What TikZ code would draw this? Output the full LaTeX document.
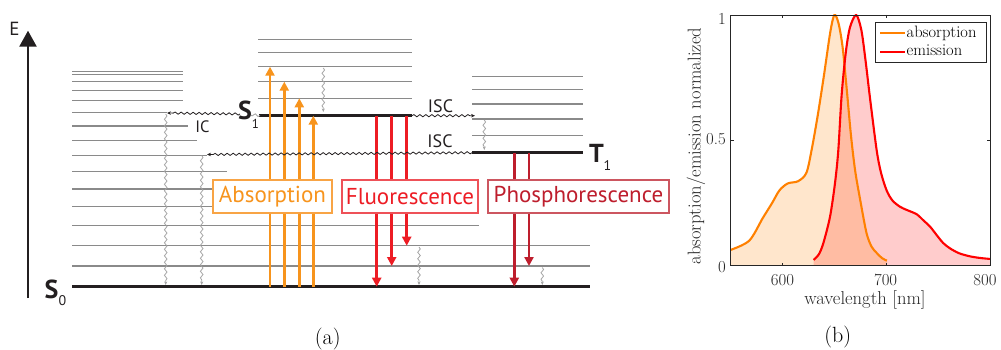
\documentclass[tikz,border=0pt]{standalone}
\usepackage{fontspec}
\newfontfamily\dfont{PT Sans}
\usetikzlibrary{arrows.meta,decorations.pathmorphing}
\definecolor{lvl}{HTML}{8A8A8A}
\definecolor{gnd}{HTML}{231F20}
\definecolor{absc}{HTML}{F7941D}
\definecolor{absb}{HTML}{F8A445}
\definecolor{fluc}{HTML}{ED1C24}
\definecolor{flub}{HTML}{EE5158}
\definecolor{phoc}{HTML}{BE1E2D}
\definecolor{phob}{HTML}{CC5660}
\definecolor{relaxc}{HTML}{A3A3A3}
\definecolor{mlorange}{HTML}{FF8000}
\definecolor{mlred}{HTML}{FF0000}
\definecolor{axc}{HTML}{262626}
\begin{document}
\begin{tikzpicture}[x=1pt,y=-1pt,
  lvlline/.style={lvl, line width=1.2pt},
  gndline/.style={gnd, line width=2.7pt},
  trans/.style={line width=2.6pt, -{Triangle[width=9pt,length=9pt]}},
  wavy/.style={gnd, line width=0.8pt, decorate, decoration={snake, amplitude=1.1pt, segment length=6pt, post length=3.5pt}, -{Stealth[length=4pt,width=3.5pt]}},
  relax/.style={relaxc, line width=0.8pt, decorate, decoration={snake, amplitude=1.3pt, segment length=6.5pt, post length=3pt}, -{Stealth[length=3.5pt,width=3pt]}},
  lbox/.style={draw, fill=white, line width=1.3pt, minimum height=33pt, inner sep=0pt, font=\dfont\fontsize{23}{23}\selectfont},
  statelbl/.style={font=\dfont\bfseries\fontsize{26}{26}\selectfont, inner sep=0pt, anchor=base, text=gnd},
  sublbl/.style={font=\dfont\fontsize{14}{14}\selectfont, inner sep=0pt, anchor=base, text=gnd},
  proclbl/.style={font=\dfont\fontsize{17}{17}\selectfont, inner sep=0pt, anchor=base, text=gnd},
  ticklbl/.style={font=\fontsize{16.8}{16.8}\selectfont, inner sep=0pt, text=axc},
  axlbl/.style={font=\fontsize{18.6}{18.6}\selectfont, inner sep=0pt, text=axc},
  leglbl/.style={font=\fontsize{16.5}{16.5}\selectfont, inner sep=0pt, anchor=base west, text=black},
  caption/.style={font=\fontsize{22}{22}\selectfont, inner sep=0pt}
]
\useasboundingbox (0,0) rectangle (1001,350);

% ---------- energy axis ----------
\coordinate (Ebot) at (28,298);
\coordinate (Etop) at (28,30.7);
\draw[gnd, line width=2.6pt, -{Triangle[width=17pt,length=16pt]}] (Ebot) -- (Etop);
\node[proclbl, font=\dfont\fontsize{19}{19}\selectfont] (E) at (14.5,35.5) {E};

% ---------- S0 manifold ----------
\foreach \y/\xe in {71.3/183, 74.7/183, 81.7/183, 90.3/183, 100.7/183, 112.7/167, 126/188, 140.3/197, 155.3/207, 171.7/227, 189/250, 206.7/250, 225.7/479, 245.7/590, 266/590}
  \draw[lvlline] (72,\y) -- (\xe,\y);
\coordinate (S0a) at (72,286.7);
\coordinate (S0b) at (590,286.7);
\draw[gndline] (S0a) -- (S0b);

% ---------- S1 manifold ----------
\foreach \y in {39.3, 52.3, 66.7, 81.7, 98.3}
  \draw[lvlline] (258,\y) -- (412,\y);
\coordinate (S1a) at (259,115.7);
\coordinate (S1b) at (412,115.7);
\draw[gndline] (S1a) -- (S1b);

% ---------- T1 manifold ----------
\foreach \y in {76.7, 89.7, 104, 119, 135.7}
  \draw[lvlline] (472,\y) -- (583,\y);
\coordinate (T1a) at (472,152.7);
\coordinate (T1b) at (583,152.7);
\draw[gndline] (T1a) -- (T1b);

% ---------- radiative transitions ----------
\foreach \x/\yt [count=\i] in {270/66.7, 284.3/81.7, 299.3/98.3, 313.3/115.7}{
  \coordinate (ab\i s) at (\x,286.7);
  \coordinate (ab\i e) at (\x,\yt);
  \draw[trans, absc] (ab\i s) -- (ab\i e);
}
\foreach \x/\yt [count=\i] in {376.7/286.7, 391.7/266, 406.7/245.7}{
  \coordinate (fl\i s) at (\x,115.7);
  \coordinate (fl\i e) at (\x,\yt);
  \draw[trans, fluc] (fl\i s) -- (fl\i e);
}
\foreach \x/\yt [count=\i] in {514.3/286.7, 529/266}{
  \coordinate (ph\i s) at (\x,152.7);
  \coordinate (ph\i e) at (\x,\yt);
  \draw[trans, phoc] (ph\i s) -- (ph\i e);
}

% ---------- non-radiative transitions ----------
\coordinate (ICs) at (240,114);
\coordinate (ICe) at (167,113);
\draw[wavy] (ICs) -- (ICe);
\coordinate (gw1) at (260,115.5);
\coordinate (gw2) at (250,114.5);
\draw[relaxc, line width=0.8pt, decorate, decoration={snake, amplitude=1.2pt, segment length=6pt}] (gw1) -- (gw2);
\coordinate (ISCae) at (475,115.7);
\draw[wavy] (S1b) -- (ISCae);
\coordinate (ISCbe) at (207,154.5);
\draw[wavy] (T1a) -- (ISCbe);

\foreach \x/\ya/\yb [count=\i] in {165.7/114/285, 201.7/155.5/285, 323.3/68/112, 419/247/285, 484.3/120/150, 542.3/267.5/285}{
  \coordinate (vr\i s) at (\x,\ya);
  \coordinate (vr\i e) at (\x,\yb);
  \draw[relax] (vr\i s) -- (vr\i e);
}

% ---------- process boxes ----------
\node[lbox, draw=absb, text=absc, minimum width=119pt] (absbox) at (272.5,196.5) {Absorption};
\node[lbox, draw=flub, text=fluc, minimum width=136pt] (flubox) at (410,196.5) {Fluorescence};
\node[lbox, draw=phob, text=phoc, minimum width=181pt] (phobox) at (578.5,196.5) {Phosphorescence};

% ---------- labels ----------
\node[statelbl] (S0l) at (51.5,298) {S};
\node[sublbl] (S0s) at (62.5,305) {0};
\node[statelbl] (S1l) at (245,120) {S};
\node[sublbl, font=\dfont\fontsize{13}{13}\selectfont] (S1s) at (255.5,128.5) {1};
\node[statelbl] (T1l) at (596.5,162) {T};
\node[sublbl] (T1s) at (607.5,171) {1};
\node[proclbl, font=\dfont\fontsize{16.5}{16.5}\selectfont] (ICl) at (202.5,132) {IC};
\node[proclbl, font=\dfont\fontsize{18}{18}\selectfont] (ISCal) at (440.5,113) {ISC};
\node[proclbl, font=\dfont\fontsize{18}{18}\selectfont] (ISCbl) at (440,148) {ISC};

% ---------- spectra plot ----------
\begin{scope}[shift={(159.92,265.7)}, x=1.0376pt, y=250.7pt]
  \begin{scope}
    \clip (550,0) rectangle (800,1);
    \fill[mlred, fill opacity=0.2] plot[smooth] coordinates {(630,0.023) (635,0.045) (639.3,0.089) (645.8,0.195) (650.6,0.329) (653.8,0.46) (657,0.68) (661,0.85) (665,0.95) (671,1.0) (676,0.94) (680,0.82) (684.6,0.66) (690.8,0.46) (695,0.37) (700.4,0.30) (706,0.26) (713.3,0.235) (720,0.222) (729.4,0.205) (736,0.18) (742.2,0.156) (749,0.12) (755,0.09) (761.5,0.069) (770,0.05) (780,0.038) (790,0.031) (800,0.027)} -- (800,0) -- (630,0) -- cycle;
    \fill[mlorange, fill opacity=0.2] plot[smooth] coordinates {(550,0.063) (568,0.10) (581,0.19) (590,0.25) (597,0.30) (605,0.328) (615,0.337) (623,0.37) (628,0.46) (634,0.60) (640,0.76) (646,0.93) (650,1.0) (654,0.967) (658,0.87) (662,0.70) (666,0.52) (670,0.38) (675,0.26) (681,0.13) (686,0.075) (691,0.05) (696,0.03) (700.6,0.02)} -- (700.6,0) -- (550,0) -- cycle;
    \draw[mlorange, line width=2.1pt] plot[smooth] coordinates {(550,0.063) (568,0.10) (581,0.19) (590,0.25) (597,0.30) (605,0.328) (615,0.337) (623,0.37) (628,0.46) (634,0.60) (640,0.76) (646,0.93) (650,1.0) (654,0.967) (658,0.87) (662,0.70) (666,0.52) (670,0.38) (675,0.26) (681,0.13) (686,0.075) (691,0.05) (696,0.03) (700.6,0.02)};
    \draw[mlred, line width=2.1pt] plot[smooth] coordinates {(630,0.023) (635,0.045) (639.3,0.089) (645.8,0.195) (650.6,0.329) (653.8,0.46) (657,0.68) (661,0.85) (665,0.95) (671,1.0) (676,0.94) (680,0.82) (684.6,0.66) (690.8,0.46) (695,0.37) (700.4,0.30) (706,0.26) (713.3,0.235) (720,0.222) (729.4,0.205) (736,0.18) (742.2,0.156) (749,0.12) (755,0.09) (761.5,0.069) (770,0.05) (780,0.038) (790,0.031) (800,0.027)};
  \end{scope}
  \draw[axc, line width=0.7pt] (550,0) rectangle (800,1);
  \foreach \t in {600,700}{
    \draw[axc, line width=0.7pt] (\t,0) -- ++(0,3pt);
    \draw[axc, line width=0.7pt] (\t,1) -- ++(0,-3pt);
  }
  \draw[axc, line width=0.7pt] (550,0.5) -- ++(3pt,0);
  \draw[axc, line width=0.7pt] (800,0.5) -- ++(-3pt,0);
\end{scope}

\node[ticklbl, anchor=east] (yt1) at (726,19) {1};
\node[ticklbl, anchor=east] (yt05) at (726,139.5) {0.5};
\node[ticklbl, anchor=east] (yt0) at (726,267) {0};
\node[ticklbl] (xt600) at (782.4,280) {600};
\node[ticklbl] (xt700) at (885.6,280) {700};
\node[ticklbl] (xt800) at (985,280) {800};
\node[axlbl, anchor=base] (xlab) at (865,304) {wavelength [nm]};
\node[axlbl, rotate=90] (ylab) at (696,146) {absorption/emission normalized};

% legend
\node[draw=axc, fill=white, line width=0.6pt, minimum width=110.3pt, minimum height=39.6pt, inner sep=0pt] (leg) at (930.85,42.5) {};
\coordinate (lga) at (880,33.3);
\coordinate (lgb) at (905,33.3);
\coordinate (lgc) at (880,51.7);
\coordinate (lgd) at (905,51.7);
\draw[mlorange, line width=2.1pt] (lga) -- (lgb);
\draw[mlred, line width=2.1pt] (lgc) -- (lgd);
\node[leglbl] (lgt1) at (906.5,37.5) {absorption};
\node[leglbl] (lgt2) at (906.5,56) {emission};

% captions
\node[caption] (capa) at (327.7,339) {(a)};
\node[caption] (capb) at (837.7,337.5) {(b)};
\end{tikzpicture}
\end{document}
